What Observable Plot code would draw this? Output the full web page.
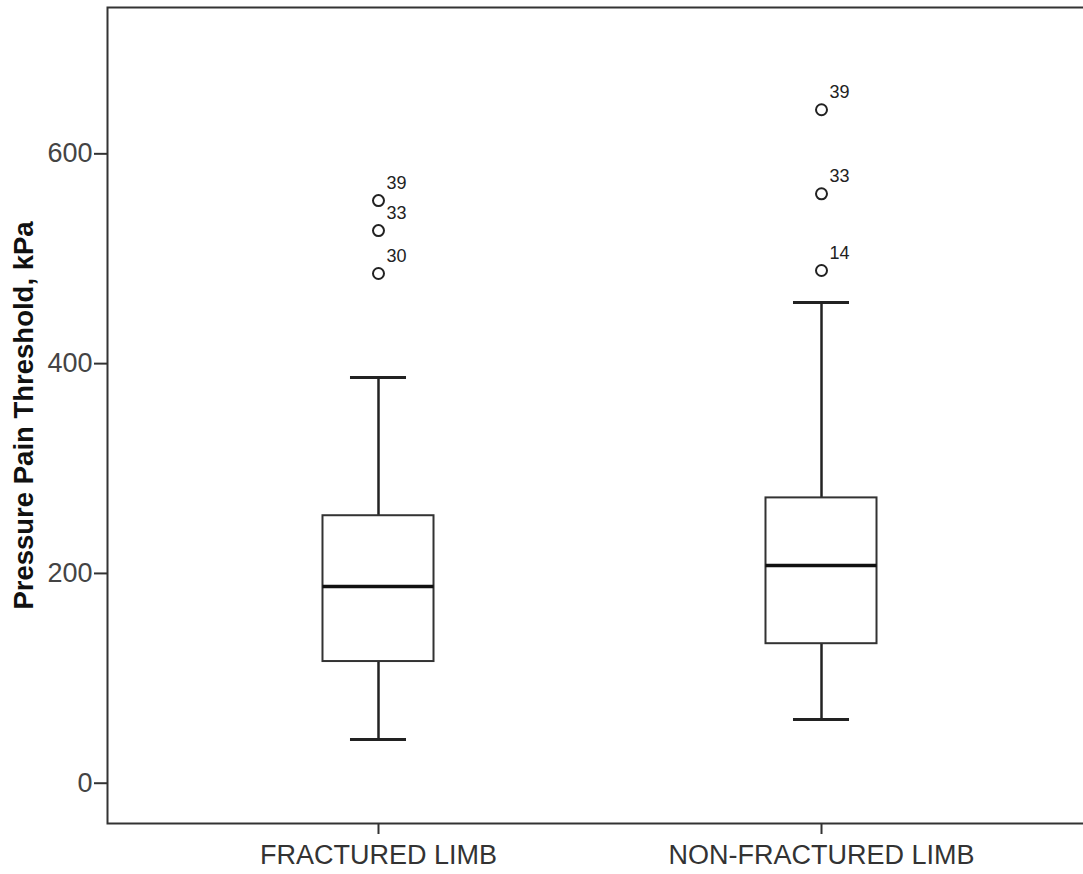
<!DOCTYPE html>
<html>
<head>
<meta charset="utf-8">
<script src="https://cdn.jsdelivr.net/npm/d3@7"></script>
<script src="https://cdn.jsdelivr.net/npm/@observablehq/plot@0.6"></script>
<style>
  html, body { margin: 0; padding: 0; background: #fff; overflow: hidden; }
  #chart svg { display: block; }
</style>
</head>
<body>
<div id="chart"></div>
<script>
// ---- data ----
const categories = ["FRACTURED LIMB", "NON-FRACTURED LIMB"];
const q1 = [116, 133];
const medians = [187.5, 207.5];
const q3 = [255, 272];
const whiskerLow = [41.6, 60.7];
const whiskerHigh = [386.8, 458.2];

const outlierGroup = [0, 0, 0, 1, 1, 1];
const outlierValues = [555.4, 526.8, 485.9, 642, 561.9, 488.8];
const outlierLabels = ["39", "33", "30", "39", "33", "14"];

const yTicks = [0, 200, 400, 600];
const yTitle = "Pressure Pain Threshold, kPa";

// ---- tables built from the arrays ----
const boxes = categories.map((c, i) => ({
  cat: c, q1: q1[i], med: medians[i], q3: q3[i], lo: whiskerLow[i], hi: whiskerHigh[i]
}));
const outliers = outlierValues.map((v, i) => ({
  cat: categories[outlierGroup[i]], value: v, label: outlierLabels[i]
}));

const font = "'Liberation Sans', Arial, Helvetica, sans-serif";

const chart = Plot.plot({
  width: 1083,
  height: 874,
  marginLeft: 107,
  marginRight: -3,
  marginTop: 7,
  marginBottom: 51,
  style: { fontFamily: font, color: "#222", background: "#fff" },
  x: { type: "band", domain: categories, range: [-9.5, 1208.5], padding: 0.7494, round: false },
  y: { domain: [-38.4, 739.5] },
  marks: [
    Plot.frame({ stroke: "#333", strokeWidth: 2 }),
    Plot.axisY({ ticks: yTicks, tickSize: 13, tickPadding: 2, fontSize: 27, label: null, stroke: "#333", strokeWidth: 2, fill: "#444" }),
    Plot.axisX({ tickSize: 11, tickPadding: 10, fontSize: 27, label: null, stroke: "#333", strokeWidth: 2, fill: "#333" }),
    Plot.text([yTitle], { frameAnchor: "left", textAnchor: "middle", rotate: -90, dx: -83, fontSize: 27.5, fontWeight: "bold", fill: "#111" }),
    // whiskers
    Plot.ruleX(boxes, { x: "cat", y1: "lo", y2: "q1", stroke: "#222", strokeWidth: 2.5 }),
    Plot.ruleX(boxes, { x: "cat", y1: "q3", y2: "hi", stroke: "#222", strokeWidth: 2.5 }),
    // caps
    Plot.tickY(boxes, { x: "cat", y: "lo", insetLeft: 27.5, insetRight: 27.5, stroke: "#222", strokeWidth: 3 }),
    Plot.tickY(boxes, { x: "cat", y: "hi", insetLeft: 27.5, insetRight: 27.5, stroke: "#222", strokeWidth: 3 }),
    // boxes
    Plot.barY(boxes, { x: "cat", y1: "q1", y2: "q3", fill: "#fff", stroke: "#333", strokeWidth: 2 }),
    // medians
    Plot.tickY(boxes, { x: "cat", y: "med", stroke: "#111", strokeWidth: 3.5 }),
    // outliers
    Plot.dot(outliers, { x: "cat", y: "value", r: 5.5, stroke: "#222", strokeWidth: 2, fill: "none" }),
    Plot.text(outliers, { x: "cat", y: "value", text: "label", dx: 8, dy: -17.5, textAnchor: "start", fontSize: 18, fill: "#222" })
  ]
});
document.getElementById("chart").appendChild(chart);
</script>
</body>
</html>
